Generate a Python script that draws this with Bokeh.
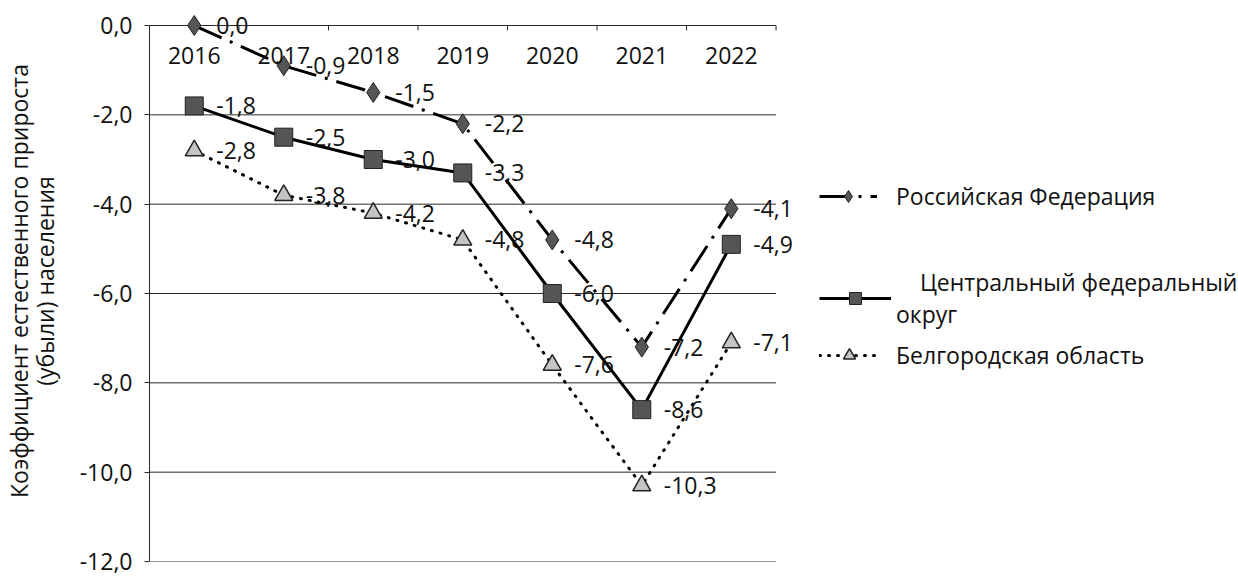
import math
from bokeh.plotting import figure
from bokeh.models import (Range1d, FixedTicker, CustomJSTickFormatter, ColumnDataSource,
                          LabelSet, Legend, LegendItem)
from bokeh.core.properties import value
from bokeh.embed import file_html
from bokeh.resources import INLINE

# ---- data ----
years = ["2016", "2017", "2018", "2019", "2020", "2021", "2022"]
rf = [0.0, -0.9, -1.5, -2.2, -4.8, -7.2, -4.1]
cfo = [-1.8, -2.5, -3.0, -3.3, -6.0, -8.6, -4.9]
bel = [-2.8, -3.8, -4.2, -4.8, -7.6, -10.3, -7.1]
series_names = ["Российская Федерация", "Центральный федеральный\nокруг", "Белгородская область"]
y_ticks = [-12, -10, -8, -6, -4, -2, 0]
y_title = "Коэффициент естественного прироста\n(убыли) населения"

FONT = "Open Sans"
FS = "23px"
TXT = "#111111"
LINE = "#2a2a2a"

def fmt(v):
    s = f"{v:.1f}".replace(".", ",")
    return "0,0" if s == "-0,0" else s

n = len(years)
xs = [i + 0.5 for i in range(n)]
x_end = n * 1095 / 630          # frame extends to the right to hold the legend

p = figure(width=1238, height=577, x_range=Range1d(0, x_end), y_range=Range1d(-12, 0.56),
           output_backend="svg", toolbar_location=None, x_axis_location=None,
           min_border_left=143, min_border_right=0, min_border_top=0, min_border_bottom=16)
p.outline_line_color = None
p.xgrid.visible = False
p.ygrid.visible = False

# gridlines limited to the category area
p.segment(x0=[0] * len(y_ticks), x1=[n] * len(y_ticks), y0=y_ticks, y1=y_ticks,
          line_color=LINE, line_width=1)
# category boundary ticks hanging from the top line
p.ray(x=list(range(n + 1)), y=[y_ticks[-1]] * (n + 1), length=5, length_units="screen",
      angle=-math.pi / 2, line_color=LINE, line_width=1)

# y axis
p.yaxis.ticker = FixedTicker(ticks=y_ticks)
p.yaxis.bounds = (y_ticks[0], y_ticks[-1])
p.yaxis.formatter = CustomJSTickFormatter(
    code="var s = tick.toFixed(1).replace('.', ','); return s == '-0,0' ? '0,0' : s;")
p.yaxis.major_label_text_font = FONT
p.yaxis.major_label_text_font_size = FS
p.yaxis.major_label_text_color = TXT
p.yaxis.major_label_standoff = 12
p.yaxis.major_tick_in = 0
p.yaxis.major_tick_out = 5
p.yaxis.minor_tick_in = 0
p.yaxis.minor_tick_out = 0
p.yaxis.axis_line_color = LINE
p.yaxis.major_tick_line_color = LINE
p.yaxis.axis_label = y_title
p.yaxis.axis_label_text_font = FONT
p.yaxis.axis_label_text_font_size = FS
p.yaxis.axis_label_text_font_style = "normal"
p.yaxis.axis_label_text_color = TXT
p.yaxis.axis_label_text_line_height = 0.8
p.yaxis.axis_label_standoff = 16

# series
bel_line = p.line(xs, bel, line_color="black", line_width=3, line_dash="1 8", line_cap="round")
bel_pts = p.scatter(xs, bel, marker="triangle", size=18, fill_color="#c4c4c4",
                    line_color="#222222", line_width=1.5)
cfo_line = p.line(xs, cfo, line_color="black", line_width=3)
cfo_pts = p.scatter(xs, cfo, marker="square", size=18, fill_color="#555555",
                    line_color="#222222", line_width=1)
rf_line = p.line(xs, rf, line_color="black", line_width=3, line_dash="30 9 3 9")
rf_pts = p.scatter(xs, rf, marker="diamond", size=20, fill_color="#555555",
                   line_color="#222222", line_width=1)

# data labels
for vals in (rf, cfo, bel):
    src = ColumnDataSource(dict(x=xs, y=vals, t=[fmt(v) for v in vals]))
    p.add_layout(LabelSet(x="x", y="y", text="t", source=src, x_offset=22, y_offset=0,
                          text_align="left", text_baseline="middle",
                          text_font=value(FONT), text_font_size=value(FS), text_color=TXT))

# category labels under the top line
ysrc = ColumnDataSource(dict(x=xs, y=[y_ticks[-1]] * n, t=years))
p.add_layout(LabelSet(x="x", y="y", text="t", source=ysrc, y_offset=-30,
                      text_align="center", text_baseline="middle",
                      text_font=value(FONT), text_font_size=value(FS), text_color=TXT))

# legends (one per series to reproduce spacing)
def make_legend(label, renderers, loc, gw, standoff):
    lg = Legend(items=[LegendItem(label=label, renderers=renderers)], location=loc,
                glyph_width=gw, glyph_height=30, label_height=30, label_standoff=standoff,
                padding=0, margin=0, spacing=0, border_line_color=None,
                background_fill_alpha=0, label_text_font=FONT, label_text_font_size=FS,
                label_text_color=TXT, label_text_line_height=1.4)
    p.add_layout(lg, "center")

make_legend(series_names[0], [rf_line, rf_pts], (670, 349), 58, 19)
make_legend("\u00a0\u00a0\u00a0\u00a0" + series_names[1], [cfo_line, cfo_pts], (670, 231), 72, 5)
make_legend(series_names[2], [bel_line, bel_pts], (670, 190), 60, 17)

open("out.html", "w").write(file_html(p, INLINE))
